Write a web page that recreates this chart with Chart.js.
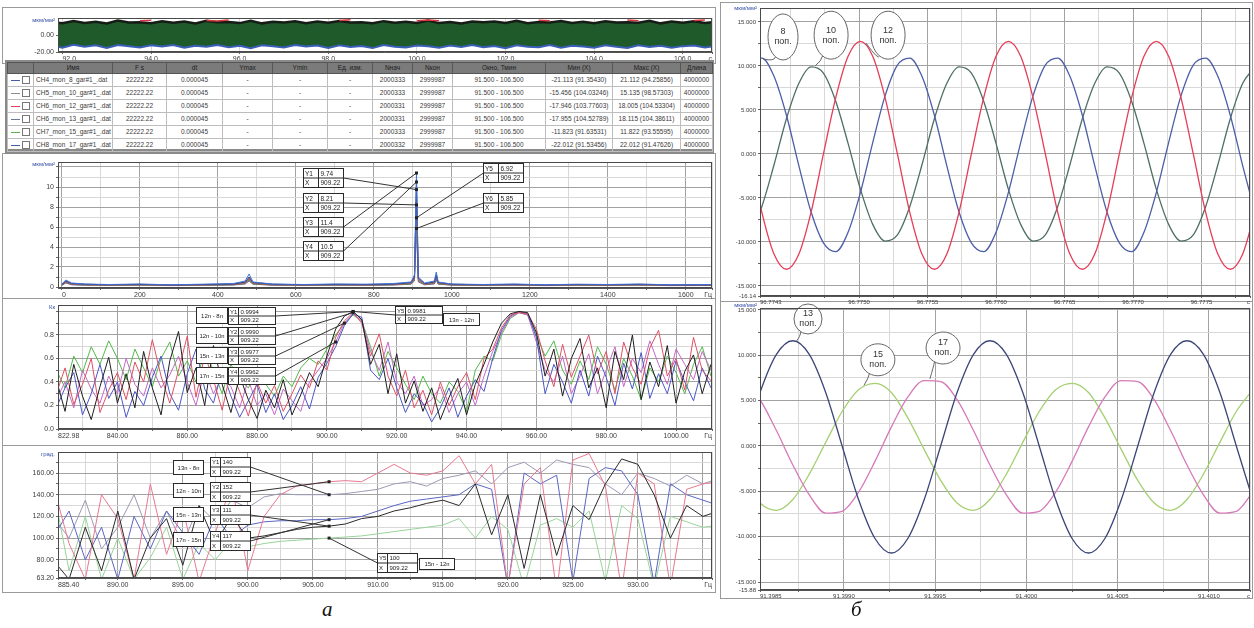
<!DOCTYPE html>
<html>
<head>
<meta charset="utf-8">
<script src="https://cdn.jsdelivr.net/npm/chart.js@4.4.0/dist/chart.umd.min.js"></script>
<style>
  body { margin: 0; background: #fff; width: 1254px; height: 628px; position: relative; overflow: hidden;
         font-family: "Liberation Sans", Arial, sans-serif; }
  .panel { position: absolute; border: 1px solid #9a9a9a; box-sizing: border-box; }
  canvas { position: absolute; }
  #tblwrap { position: absolute; left: 5px; top: 60px; width: 709px; height: 94px; border: 2px solid #8a8a8a;
             border-bottom-width: 5px; box-sizing: border-box; background: #fff; }
  #tbl { position: absolute; left: 0; top: 0; border-collapse: collapse; table-layout: fixed; width: 705px; font-size: 6.5px; }
  #tbl th { background: #7b7b7b; color: #202020; font-weight: normal; height: 10px; line-height: 10px; border: 1px solid #555; padding: 0; }
  #tbl td { height: 12px; line-height: 12px; border: 1px solid #bdbdbd; padding: 0 2px; white-space: nowrap; overflow: hidden; color: #3a3a3a; text-align: center; }
  #tbl td.nm { text-align: left; }
  .ln { display: inline-block; width: 9px; height: 1px; vertical-align: middle; margin-right: 2px; }
  .cb { display: inline-block; width: 6px; height: 6px; border: 1px solid #777; vertical-align: middle; }
  .cap { position: absolute; font-family: "Liberation Serif", serif; font-style: italic; font-size: 21px; color: #111; }
</style>
</head>
<body>
<div class="panel" style="left:2px;top:7px;width:714px;height:57px"></div>
<div class="panel" style="left:2px;top:153px;width:714px;height:146px"></div>
<div class="panel" style="left:2px;top:298px;width:714px;height:148px"></div>
<div class="panel" style="left:2px;top:445px;width:714px;height:148px"></div>
<div class="panel" style="left:720px;top:2px;width:533px;height:300px"></div>
<div class="panel" style="left:720px;top:301px;width:533px;height:298px"></div>

<canvas id="strip" width="718" height="58" style="left:0;top:8px"></canvas>
<canvas id="spec" width="718" height="147" style="left:0;top:153px"></canvas>
<canvas id="coh" width="718" height="149" style="left:0;top:298px"></canvas>
<canvas id="phase" width="718" height="151" style="left:0;top:445px"></canvas>
<canvas id="rtop" width="536" height="309" style="left:718px;top:1px"></canvas>
<canvas id="rbot" width="536" height="303" style="left:718px;top:301px"></canvas>

<div id="tblwrap">
  <table id="tbl">
    <colgroup>
      <col style="width:26px"><col style="width:79px"><col style="width:54px"><col style="width:56px">
      <col style="width:50px"><col style="width:55px"><col style="width:45px"><col style="width:40px">
      <col style="width:40px"><col style="width:93px"><col style="width:67px"><col style="width:68px"><col style="width:32px">
    </colgroup>
  </table>
</div>

<div class="cap" style="left:322px;top:597px">а</div>
<div class="cap" style="left:851px;top:597px">б</div>

<script>
Chart.defaults.font.family = '"Liberation Sans", Arial, sans-serif';

// ---------- table ----------
var tableHead = ["", "Имя", "F s", "dt", "Ymax", "Ymin", "Ед. изм.", "Nнач", "Nкон", "Окно, Тмин", "Мин (X)", "Макс (X)", "Длина"];
var chanNames = ["CH4_mon_8_gar#1_.dat", "CH5_mon_10_gar#1_.dat", "CH6_mon_12_gar#1_.dat",
                 "CH6_mon_13_gar#1_.dat", "CH7_mon_15_gar#1_.dat", "CH8_mon_17_gar#1_.dat"];
var chanColors = ["#4a5aa6", "#8a8a8a", "#e0405a", "#6a7890", "#5ab04a", "#4060b0"];
var chanStart = ["2000333", "2000333", "2000331", "2000331", "2000333", "2000332"];
var chanMin = ["-21.113 (91.35430)", "-15.456 (104.03246)", "-17.946 (103.77603)",
               "-17.955 (104.52789)", "-11.823 (91.63531)", "-22.012 (91.53456)"];
var chanMax = ["21.112 (94.25856)", "15.135 (98.57303)", "18.005 (104.53304)",
               "18.115 (104.38611)", "11.822 (93.55595)", "22.012 (91.47626)"];

// ---------- time signal strip ----------
var stripT = [91.75, 92, 92.25, 92.5, 92.75, 93, 93.25, 93.5, 93.75, 94, 94.25, 94.5, 94.75, 95, 95.25, 95.5,
  95.75, 96, 96.25, 96.5, 96.75, 97, 97.25, 97.5, 97.75, 98, 98.25, 98.5, 98.75, 99, 99.25, 99.5, 99.75, 100,
  100.25, 100.5, 100.75, 101, 101.25, 101.5, 101.75, 102, 102.25, 102.5, 102.75, 103, 103.25, 103.5, 103.75,
  104, 104.25, 104.5, 104.75, 105, 105.25, 105.5, 105.75, 106, 106.25, 106.5, 106.75];
var stripUpper = [15.2, 13.8, 16.4, 14.1, 15.7, 13.5, 16.9, 14.6, 15.0, 13.9,
  16.2, 14.4, 15.8, 13.6, 16.6, 14.9, 15.3, 14.0, 16.8, 13.7,
  15.5, 14.8, 16.1, 13.9, 15.9, 14.3, 16.5, 14.7, 15.1, 13.8,
  16.3, 14.5, 15.6, 14.2, 17.0, 14.0, 15.4, 13.6, 16.0, 14.9,
  15.8, 14.1, 16.7, 13.8, 15.2, 14.6, 16.4, 14.0, 15.7, 13.9,
  16.2, 14.8, 15.0, 14.3, 16.6, 13.7, 15.9, 14.4, 16.1, 14.2, 15.5];
var stripLower = [-12.4, -14.9, -11.6, -13.8, -12.1, -15.3, -11.9, -13.2, -14.6, -12.0,
  -13.5, -11.8, -15.0, -12.6, -13.9, -11.7, -14.4, -12.8, -15.6, -12.2,
  -13.1, -14.7, -11.9, -13.6, -12.4, -15.2, -12.0, -14.1, -12.9, -15.4,
  -11.8, -13.7, -14.8, -12.3, -13.3, -15.1, -12.5, -14.0, -11.9, -14.5,
  -13.0, -15.5, -12.1, -13.8, -14.3, -11.7, -15.0, -12.7, -13.4, -14.9,
  -12.2, -13.9, -15.3, -12.0, -14.2, -12.6, -15.1, -13.1, -12.4, -14.6, -13.0];
var stripRed = [null, null, null, null, null, null, null, null, 16.8, 17.4,
  null, null, null, null, 17.2, 16.6, 17.6, null, null, null,
  null, null, null, null, null, null, 17.0, 17.8, null, null,
  null, null, null, 16.9, 17.5, 16.7, null, null, null, null,
  null, null, null, null, 17.3, 16.8, null, null, null, null,
  null, null, 17.6, 16.9, null, null, null, null, 17.1, 17.7, null];
var stripXTicks = [92, 94, 96, 98, 100, 102, 104, 106, 106.66];
var stripYTicks = [-20, 0];

// ---------- spectrum ----------
var specF = [0, 10, 25, 60, 120, 200, 280, 360, 440, 470, 480, 490, 540, 620, 700, 780, 850, 895, 904, 909.22,
  914, 930, 955, 960, 965, 1000, 1080, 1160, 1240, 1320, 1400, 1480, 1560, 1670];
var spec8 = [0.25, 0.6, 0.35, 0.28, 0.22, 0.27, 0.2, 0.25, 0.3, 0.5, 1.0, 0.45, 0.28, 0.22, 0.27, 0.25, 0.3, 0.45, 1.0, 10.5,
  0.9, 0.35, 0.5, 1.2, 0.45, 0.28, 0.22, 0.27, 0.2, 0.25, 0.22, 0.27, 0.2, 0.22];
var spec10 = [0.22, 0.55, 0.3, 0.25, 0.2, 0.24, 0.18, 0.22, 0.28, 0.45, 0.9, 0.4, 0.25, 0.2, 0.24, 0.22, 0.28, 0.4, 0.9, 9.74,
  0.8, 0.3, 0.45, 1.0, 0.4, 0.25, 0.2, 0.24, 0.18, 0.22, 0.2, 0.24, 0.18, 0.2];
var spec12 = [0.2, 0.5, 0.28, 0.22, 0.18, 0.22, 0.16, 0.2, 0.25, 0.4, 0.8, 0.35, 0.22, 0.18, 0.22, 0.2, 0.25, 0.35, 0.8, 8.21,
  0.7, 0.28, 0.4, 0.9, 0.35, 0.22, 0.18, 0.22, 0.16, 0.2, 0.18, 0.22, 0.16, 0.18];
var spec13 = [0.3, 0.7, 0.4, 0.3, 0.25, 0.3, 0.22, 0.28, 0.35, 0.6, 1.3, 0.5, 0.3, 0.25, 0.3, 0.28, 0.35, 0.5, 1.2, 11.4,
  1.0, 0.4, 0.6, 1.5, 0.5, 0.3, 0.25, 0.3, 0.22, 0.28, 0.25, 0.3, 0.22, 0.25];
var spec15 = [0.18, 0.45, 0.25, 0.2, 0.16, 0.2, 0.15, 0.18, 0.22, 0.35, 0.7, 0.3, 0.2, 0.16, 0.2, 0.18, 0.22, 0.3, 0.7, 6.92,
  0.6, 0.25, 0.35, 0.8, 0.3, 0.2, 0.16, 0.2, 0.15, 0.18, 0.16, 0.2, 0.15, 0.16];
var spec17 = [0.16, 0.4, 0.22, 0.18, 0.15, 0.18, 0.14, 0.16, 0.2, 0.3, 0.6, 0.28, 0.18, 0.15, 0.18, 0.16, 0.2, 0.28, 0.6, 5.85,
  0.5, 0.22, 0.3, 0.7, 0.28, 0.18, 0.15, 0.18, 0.14, 0.16, 0.15, 0.18, 0.14, 0.15];
var specXTicks = [0, 100, 200, 300, 400, 500, 600, 700, 800, 900, 1000, 1100, 1200, 1300, 1400, 1500, 1600, 1667];
var specYTicks = [0, 1, 2, 3, 4, 5, 6, 7, 8, 9, 10, 11, 12];

// ---------- coherence ----------
var cohF = [822.5, 825, 827.5, 830, 832.5, 835, 837.5, 840, 842.5, 845, 847.5, 850, 852.5, 855, 857.5, 860,
  862.5, 865, 867.5, 870, 872.5, 875, 877.5, 880, 882.5, 885, 887.5, 890, 892.5, 895, 897.5, 900, 902.5, 905,
  907.5, 910, 912.5, 915, 917.5, 920, 922.5, 925, 927.5, 930, 932.5, 935, 937.5, 940, 942.5, 945, 947.5, 950,
  952.5, 955, 957.5, 960, 962.5, 965, 967.5, 970, 972.5, 975, 977.5, 980, 982.5, 985, 987.5, 990, 992.5, 995,
  997.5, 1000, 1002.5, 1005, 1007.5, 1010];
var coh12_8 = [0.42, 0.15, 0.55, 0.28, 0.08, 0.36, 0.61, 0.22, 0.47, 0.18,
  0.66, 0.35, 0.12, 0.58, 0.83, 0.31, 0.52, 0.2, 0.71, 0.38,
  0.14, 0.45, 0.25, 0.09, 0.33, 0.18, 0.42, 0.12, 0.29, 0.48,
  0.36, 0.62, 0.85, 0.96, 1.0, 0.93, 0.55, 0.72, 0.3, 0.64,
  0.22, 0.41, 0.15, 0.35, 0.08, 0.27, 0.43, 0.12, 0.38, 0.55,
  0.74, 0.9, 0.98, 1.0, 0.99, 0.82, 0.45, 0.68, 0.28, 0.6,
  0.77, 0.35, 0.52, 0.18, 0.66, 0.42, 0.8, 0.25, 0.57, 0.36,
  0.71, 0.22, 0.49, 0.63, 0.3, 0.55];
var coh12_10 = [0.3, 0.52, 0.21, 0.38, 0.6, 0.14, 0.33, 0.48, 0.25, 0.57,
  0.4, 0.76, 0.45, 0.22, 0.5, 0.79, 0.27, 0.63, 0.42, 0.16,
  0.5, 0.32, 0.11, 0.4, 0.22, 0.37, 0.15, 0.3, 0.46, 0.35,
  0.58, 0.5, 0.78, 0.92, 0.99, 0.9, 0.62, 0.81, 0.45, 0.28,
  0.5, 0.18, 0.33, 0.12, 0.4, 0.2, 0.36, 0.48, 0.25, 0.6,
  0.68, 0.86, 0.97, 0.99, 0.98, 0.85, 0.58, 0.36, 0.72, 0.44,
  0.62, 0.8, 0.47, 0.66, 0.3, 0.74, 0.52, 0.38, 0.69, 0.84,
  0.45, 0.6, 0.33, 0.78, 0.5, 0.41];
var coh13_12 = [0.18, 0.35, 0.48, 0.12, 0.3, 0.55, 0.26, 0.4, 0.1, 0.32,
  0.2, 0.44, 0.62, 0.3, 0.16, 0.47, 0.68, 0.34, 0.22, 0.5,
  0.28, 0.1, 0.24, 0.38, 0.14, 0.3, 0.08, 0.2, 0.36, 0.17,
  0.44, 0.56, 0.7, 0.88, 0.98, 0.95, 0.5, 0.42, 0.6, 0.35,
  0.14, 0.3, 0.22, 0.06, 0.18, 0.35, 0.1, 0.28, 0.42, 0.32,
  0.6, 0.84, 0.96, 1.0, 0.98, 0.78, 0.3, 0.55, 0.4, 0.22,
  0.5, 0.28, 0.62, 0.44, 0.2, 0.56, 0.34, 0.65, 0.26, 0.47,
  0.3, 0.58, 0.4, 0.24, 0.52, 0.35];
var coh15_13 = [0.5, 0.35, 0.62, 0.48, 0.7, 0.55, 0.75, 0.6, 0.42, 0.68,
  0.52, 0.36, 0.6, 0.74, 0.45, 0.58, 0.4, 0.66, 0.5, 0.3,
  0.55, 0.42, 0.35, 0.5, 0.38, 0.28, 0.45, 0.36, 0.52, 0.6,
  0.55, 0.68, 0.8, 0.9, 0.97, 0.92, 0.7, 0.45, 0.66, 0.52,
  0.38, 0.25, 0.45, 0.3, 0.22, 0.4, 0.32, 0.15, 0.5, 0.62,
  0.58, 0.8, 0.94, 0.99, 0.97, 0.8, 0.62, 0.75, 0.5, 0.38,
  0.58, 0.42, 0.7, 0.55, 0.33, 0.6, 0.45, 0.25, 0.52, 0.4,
  0.62, 0.48, 0.3, 0.55, 0.7, 0.45];
var coh17_15 = [0.25, 0.4, 0.18, 0.5, 0.34, 0.22, 0.45, 0.3, 0.6, 0.38,
  0.28, 0.52, 0.35, 0.46, 0.62, 0.4, 0.2, 0.5, 0.3, 0.44,
  0.36, 0.18, 0.42, 0.2, 0.3, 0.12, 0.34, 0.24, 0.15, 0.4,
  0.5, 0.6, 0.74, 0.9, 0.98, 0.92, 0.66, 0.5, 0.74, 0.4,
  0.3, 0.45, 0.2, 0.25, 0.36, 0.14, 0.3, 0.4, 0.2, 0.45,
  0.66, 0.82, 0.95, 0.99, 0.97, 0.74, 0.5, 0.4, 0.62, 0.3,
  0.45, 0.64, 0.3, 0.5, 0.7, 0.36, 0.6, 0.48, 0.75, 0.55,
  0.38, 0.68, 0.55, 0.42, 0.66, 0.5];
var cohXTicks = [822.98, 830, 840, 850, 860, 870, 880, 890, 900, 910, 920, 930, 940, 950, 960, 970, 980, 990, 1000, 1010.3];
var cohYTicks = [0, 0.1, 0.2, 0.3, 0.4, 0.5, 0.6, 0.7, 0.8, 0.9, 1.0];

// ---------- phase ----------
var phaseF = [885, 886.25, 887.5, 888.75, 890, 891.25, 892.5, 893.75, 895, 896.25, 897.5, 898.75, 900, 901.25,
  902.5, 903.75, 905, 906.25, 907.5, 908.75, 910, 911.25, 912.5, 913.75, 915, 916.25, 917.5, 918.75, 920, 921.25,
  922.5, 923.75, 925, 926.25, 927.5, 928.75, 930, 931.25, 932.5, 933.75, 935, 936.25];
var ph12_10 = [150, 95, 62, 140, 118, 62, 150, 85, 128, 60,
  105, 150, 70, 120, 140, 148, 150, 152, 153, 152,
  160, 168, 160, 158, 162, 176, 150, 168, 55, 150,
  165, 50, 172, 178, 148, 52, 160, 150, 55, 145, 150, 152];
var ph13_8 = [120, 100, 135, 90, 110, 140, 100, 125, 95, 130,
  115, 135, 128, 138, 141, 140, 140, 140, 141, 143,
  145, 150, 152, 148, 155, 158, 162, 150, 165, 170,
  160, 172, 168, 165, 150, 140, 160, 155, 148, 158, 150, 155];
var ph15_13 = [80, 62, 110, 70, 125, 62, 100, 118, 75, 130,
  95, 120, 100, 102, 105, 108, 110, 111, 113, 118,
  120, 125, 128, 132, 135, 130, 150, 103, 140, 72,
  140, 84, 130, 117, 150, 173, 168, 140, 100, 130, 120, 125];
var ph17_15 = [100, 125, 80, 110, 62, 120, 90, 125, 105, 85,
  120, 100, 112, 115, 116, 116, 117, 117, 118, 120,
  125, 130, 134, 136, 138, 140, 150, 145, 55, 160,
  150, 158, 60, 155, 165, 162, 140, 58, 150, 140, 135, 130];
var ph15_12 = [148, 70, 120, 62, 100, 62, 82, 110, 62, 95,
  80, 98, 92, 95, 97, 98, 99, 100, 101, 102,
  104, 106, 108, 110, 112, 118, 100, 120, 108, 55,
  112, 118, 110, 125, 60, 130, 118, 55, 120, 115, 110, 112];
var phaseXTicks = [885.4, 887.5, 890, 892.5, 895, 897.5, 900, 902.5, 905, 907.5, 910, 912.5, 915, 917.5, 920,
  922.5, 925, 927.5, 930, 932.5, 935, 935.7];
var phaseYTicks = [63.2, 70, 80, 90, 100, 110, 120, 130, 140, 150, 160, 170];

// ---------- right: harmonics 8, 10, 12 (time in µs after 96.7740 s) ----------
var topT = [200, 290, 380, 470, 560, 650, 740, 830, 920, 1010, 1100, 1190, 1280, 1370, 1460, 1550, 1640, 1730,
  1820, 1910, 2000, 2090, 2180, 2270, 2360, 2450, 2540, 2630, 2720, 2810, 2900, 2990, 3080, 3170, 3260, 3350,
  3440, 3530, 3620, 3710, 3800, 3890];
var top8 = [10.1, 10.9, 8.8, 4.4, -1.3, -6.6, -10.1, -11.1, -8.9, -4.4, 1.3, 6.6,
  10.1, 10.9, 8.8, 4.4, -1.3, -6.6, -10.1, -11.1, -8.9, -4.4, 1.3, 6.6,
  10.1, 10.9, 8.8, 4.4, -1.3, -6.6, -10.1, -11.1, -8.9, -4.4, 1.3, 6.6,
  10.1, 10.9, 8.8, 4.4, -1.3, -6.6];
var top10 = [-9.2, -6.0, -1.2, 4.0, 8.0, 9.9, 9.2, 6.0, 1.2, -4.0, -8.0, -9.9,
  -9.2, -6.0, -1.2, 4.0, 8.0, 9.9, 9.2, 6.0, 1.2, -4.0, -8.0, -9.9,
  -9.2, -6.0, -1.2, 4.0, 8.0, 9.9, 9.2, 6.0, 1.2, -4.0, -8.0, -9.9,
  -9.2, -6.0, -1.2, 4.0, 8.0, 9.9];
var top12 = [0, -6.6, -11.4, -13.1, -11.4, -6.6, 0, 6.4, 11.1, 12.8, 11.1, 6.4,
  0, -6.6, -11.4, -13.1, -11.4, -6.6, 0, 6.4, 11.1, 12.8, 11.1, 6.4,
  0, -6.6, -11.4, -13.1, -11.4, -6.6, 0, 6.4, 11.1, 12.8, 11.1, 6.4,
  0, -6.6, -11.4, -13.1, -11.4, -6.6];
var topXTicks = [277, 500, 750, 1000, 1250, 1500, 1750, 2000, 2250, 2500, 2750, 3000, 3250, 3500, 3750, 3854];
var topYTicks = [-16.14, -15, -12.5, -10, -7.5, -5, -2.5, 0, 2.5, 5, 7.5, 10, 12.5, 15];

// ---------- right: harmonics 13, 15, 17 (time in µs after 91.3980 s) ----------
var botT = [450, 540, 630, 720, 810, 900, 990, 1080, 1170, 1260, 1350, 1440, 1530, 1620, 1710, 1800, 1890, 1980,
  2070, 2160, 2250, 2340, 2430, 2520, 2610, 2700, 2790, 2880, 2970, 3060, 3150, 3240];
var bot13 = [0, 5.9, 10.1, 11.6, 10.1, 5.9, 0, -5.9, -10.2, -11.8, -10.2, -5.9,
  0, 5.9, 10.1, 11.6, 10.1, 5.9, 0, -5.9, -10.2, -11.8, -10.2, -5.9,
  0, 5.9, 10.1, 11.6, 10.1, 5.9, 0, -5.9];
var bot15 = [-3.8, -6.3, -7.1, -5.9, -3.1, 0.4, 3.8, 6.2, 6.9, 5.9, 3.1, -0.4,
  -3.8, -6.3, -7.1, -5.9, -3.1, 0.4, 3.8, 6.2, 6.9, 5.9, 3.1, -0.4,
  -3.8, -6.3, -7.1, -5.9, -3.1, 0.4, 3.8, 6.2];
var bot17 = [7.1, 5.1, 1.7, -2.1, -5.4, -7.4, -7.2, -5.1, -1.7, 2.1, 5.4, 7.2,
  7.1, 5.1, 1.7, -2.1, -5.4, -7.4, -7.2, -5.1, -1.7, 2.1, 5.4, 7.2,
  7.1, 5.1, 1.7, -2.1, -5.4, -7.4, -7.2, -5.1];
var botXTicks = [540, 750, 1000, 1250, 1500, 1750, 2000, 2250, 2500, 2750, 3000, 3225];
var botYTicks = [-15.88, -15, -12.5, -10, -7.5, -5, -2.5, 0, 2.5, 5, 7.5, 10, 12.5, 15];

// ---------- build table ----------
var rowsHtml = "<tr>" + tableHead.map(function(h) { return "<th>" + h + "</th>"; }).join("") + "</tr>";
chanNames.forEach(function(name, i) {
  rowsHtml += "<tr><td><span class='ln' style='background:" + chanColors[i] + "'></span><span class='cb'></span></td>" +
    "<td class='nm'>" + name + "</td><td>22222.22</td><td>0.000045</td><td>-</td><td>-</td><td>-</td>" +
    "<td>" + chanStart[i] + "</td><td>2999987</td><td>91.500 - 106.500</td>" +
    "<td>" + chanMin[i] + "</td><td>" + chanMax[i] + "</td><td>4000000</td></tr>";
});
document.getElementById("tbl").insertAdjacentHTML("beforeend", rowsHtml);

// ---------- plugins ----------
var framePlugin = {
  id: "frame",
  afterDraw: function(chart, args, opts) {
    var a = chart.chartArea, ctx = chart.ctx;
    ctx.save();
    ctx.strokeStyle = "#4a4a4a";
    ctx.lineWidth = 1;
    ctx.strokeRect(Math.round(a.left) + 0.5, Math.round(a.top) + 0.5,
                   Math.round(a.right - a.left) - 1, Math.round(a.bottom - a.top) - 1);
    if (opts.unit) {
      ctx.font = '6px "Liberation Sans", sans-serif';
      ctx.fillStyle = "#3550a8";
      ctx.textAlign = "right";
      ctx.textBaseline = "top";
      ctx.fillText(opts.unit, a.left - 3, a.top - (opts.unitLift || 1));
    }
    ctx.restore();
  }
};

var calloutPlugin = {
  id: "callouts",
  afterDatasetsDraw: function(chart, args, opts) {
    var ctx = chart.ctx, sx = chart.scales.x, sy = chart.scales.y;
    var X = function(v) { return sx.getPixelForValue(v); };
    var Y = function(v) { return sy.getPixelForValue(v); };
    ctx.save();
    ctx.lineWidth = 1;
    ctx.textBaseline = "middle";
    (opts.items || []).forEach(function(it) {
      var bx = Math.round(X(it.x)) + 0.5, by = Math.round(Y(it.y)) + 0.5;
      ctx.font = (it.fs || 6.5) + 'px "Liberation Sans", sans-serif';
      if (it.kind === "vals") {
        var w = it.w[0] + it.w[1], h = it.rh * it.rows.length;
        if (it.to) {
          var tx = X(it.to[0]), ty = Y(it.to[1]);
          var ax = it.side === "left" ? bx : bx + w;
          ctx.strokeStyle = "#333";
          ctx.beginPath(); ctx.moveTo(ax, by + h / 2); ctx.lineTo(tx, ty); ctx.stroke();
          ctx.fillStyle = "#222"; ctx.fillRect(tx - 1.5, ty - 1.5, 3, 3);
        }
        ctx.fillStyle = "#fff"; ctx.fillRect(bx, by, w, h);
        ctx.strokeStyle = "#2a2a2a"; ctx.strokeRect(bx, by, w, h);
        ctx.beginPath();
        ctx.moveTo(bx + it.w[0], by); ctx.lineTo(bx + it.w[0], by + h);
        for (var r = 1; r < it.rows.length; r++) { ctx.moveTo(bx, by + r * it.rh); ctx.lineTo(bx + w, by + r * it.rh); }
        ctx.stroke();
        ctx.fillStyle = "#222"; ctx.textAlign = "left";
        it.rows.forEach(function(row, k) {
          ctx.fillText(row[0], bx + 1.5, by + k * it.rh + it.rh / 2 + 0.5);
          ctx.fillText(row[1], bx + it.w[0] + 2, by + k * it.rh + it.rh / 2 + 0.5);
        });
      } else if (it.kind === "name") {
        ctx.fillStyle = "#fff"; ctx.fillRect(bx, by, it.w, it.h);
        ctx.strokeStyle = "#2a2a2a"; ctx.strokeRect(bx, by, it.w, it.h);
        ctx.fillStyle = "#222"; ctx.textAlign = "center";
        ctx.fillText(it.text, bx + it.w / 2, by + it.h / 2 + 0.5);
      } else if (it.kind === "bubble") {
        var cx = X(it.x), cy = Y(it.y), px = X(it.to[0]), py = Y(it.to[1]);
        var sxp = cx - it.rx * 0.5, syp = cy + it.ry * 0.86;
        ctx.strokeStyle = "#666";
        ctx.beginPath(); ctx.moveTo(sxp, syp); ctx.quadraticCurveTo(sxp - 1, syp + 5, px, py); ctx.stroke();
        ctx.beginPath(); ctx.ellipse(cx, cy, it.rx, it.ry, 0, 0, Math.PI * 2);
        ctx.fillStyle = "#fff"; ctx.fill(); ctx.stroke();
        ctx.fillStyle = "#333"; ctx.textAlign = "center";
        ctx.font = '9px "Liberation Sans", sans-serif';
        var n = it.lines.length;
        it.lines.forEach(function(s, k) { ctx.fillText(s, cx, cy + (k - (n - 1) / 2) * 10); });
      }
    });
    ctx.restore();
  }
};

// ---------- helpers ----------
function pts(xs, ys) {
  return xs.map(function(x, i) { return { x: x, y: ys[i] }; });
}
function axis(isX, a) {
  return {
    type: "linear", min: a.min, max: a.max,
    afterBuildTicks: function(s) { s.ticks = a.ticks.map(function(v) { return { value: v }; }); },
    afterFit: function(s) { if (isX) s.height = a.size; else s.width = a.size; },
    ticks: {
      autoSkip: false, maxRotation: 0, minRotation: 0, align: isX ? "inner" : "center",
      padding: isX ? 1 : 2, color: "#3c3c3c", font: { size: a.font || 7 },
      callback: function(v) { return a.label(v); }
    },
    grid: {
      color: function(c) { return (c.tick && a.major(c.tick.value)) ? "#a2a2a2" : "#d8d8d8"; },
      tickLength: 2, tickColor: "#666"
    },
    border: { color: "#555" }
  };
}
function near(v, step) { return Math.abs(v / step - Math.round(v / step)) < 1e-6; }
function lineChart(id, datasets, o) {
  return new Chart(document.getElementById(id), {
    type: "line",
    data: { datasets: datasets },
    options: {
      responsive: false, animation: false, events: [],
      layout: { padding: { left: 0, right: o.padR, top: o.padT, bottom: 0 } },
      plugins: {
        legend: { display: false }, tooltip: { enabled: false },
        frame: { unit: o.unit, unitLift: o.unitLift }, callouts: { items: o.items || [] }
      },
      elements: { point: { radius: 0 }, line: { borderWidth: 1, tension: 0 } },
      scales: { x: axis(true, o.x), y: axis(false, o.y) }
    },
    plugins: [calloutPlugin, framePlugin]
  });
}
function ds(xs, ys, color, extra) {
  var d = { data: pts(xs, ys), borderColor: color, fill: false, borderWidth: 1 };
  for (var k in extra || {}) d[k] = extra[k];
  return d;
}

// ---------- strip ----------
lineChart("strip", [
  ds(stripT, stripRed, "#d8383e", { borderWidth: 1.5 }),
  ds(stripT, stripLower, "#3a5fb8", { borderWidth: 2 }),
  ds(stripT, stripUpper, "#161c16", { borderWidth: 2.5, fill: 1, backgroundColor: "#1f5a2b" })
], {
  padR: 6, padT: 10, unit: "мкм/мм²",
  x: { min: 91.9, max: 106.66, ticks: stripXTicks, size: 14, major: function() { return false; },
       label: function(v) { return v > 106.5 ? "с" : v.toFixed(1); } },
  y: { min: -20, max: 20, ticks: stripYTicks, size: 58, major: function() { return false; },
       label: function(v) { return v.toFixed(2); } }
});

// ---------- spectrum ----------
var vb = function(x, y, n, val, to, side) {
  return { kind: "vals", x: x, y: y, w: [15, 25], rh: 9.5, rows: [[n, val], ["X", "909.22"]], to: to, side: side };
};
lineChart("spec", [
  ds(specF, spec17, "#9050b0"), ds(specF, spec15, "#40a040"), ds(specF, spec12, "#d04050"),
  ds(specF, spec10, "#808080"), ds(specF, spec8, "#303a80"), ds(specF, spec13, "#3d6fd6")
].reverse(), {
  padR: 6, padT: 9, unit: "мкм/мм²",
  items: [
    vb(618, 11.9, "Y1", "9.74", [909.22, 9.74]), vb(618, 9.4, "Y2", "8.21", [909.22, 8.21]),
    vb(618, 7.0, "Y3", "11.4", [909.22, 11.4]), vb(618, 4.6, "Y4", "10.5", [909.22, 10.5]),
    vb(1079, 12.4, "Y5", "6.92", [909.22, 6.92], "left"), vb(1079, 9.4, "Y6", "5.85", [909.22, 5.85], "left")
  ],
  x: { min: -10, max: 1667, ticks: specXTicks, size: 12, major: function(v) { return near(v, 200); },
       label: function(v) { return v > 1650 ? "Гц" : (near(v, 200) ? String(v) : ""); } },
  y: { min: -0.1, max: 12.5, ticks: specYTicks, size: 58, major: function(v) { return near(v, 2); },
       label: function(v) { return (near(v, 2) && v < 12) ? String(v) : ""; } }
});

// ---------- coherence ----------
var cv = function(x, y, n, val, to, side) {
  return { kind: "vals", x: x, y: y, w: [10, 37], rh: 8.5, fs: 6, rows: [[n, val], ["X", "909.22"]], to: to, side: side };
};
var cn = function(x, y, t, w, h) { return { kind: "name", x: x, y: y, w: w || 31, h: h || 16, fs: 6, text: t }; };
lineChart("coh", [
  ds(cohF, coh12_8, "#1e1e1e"), ds(cohF, coh12_10, "#e05064"), ds(cohF, coh13_12, "#4a56c8"),
  ds(cohF, coh17_15, "#c468c4"), ds(cohF, coh15_13, "#52b84a")
], {
  padR: 6, padT: 7, unit: "Кк",
  items: [
    cn(862.5, 1.038, "12п - 8п"), cv(871.7, 1.038, "Y1", "0.9994", [907.5, 1.0]),
    cn(862.5, 0.868, "12п - 10п"), cv(871.7, 0.868, "Y2", "0.9990", [907.5, 0.99]),
    cn(862.5, 0.698, "15п - 13п"), cv(871.7, 0.698, "Y3", "0.9977", [905, 0.9]),
    cn(862.5, 0.528, "17п - 15п"), cv(871.7, 0.528, "Y4", "0.9962", [902.5, 0.74]),
    cv(919.5, 1.045, "Y5", "0.9981", [907.5, 1.0], "left"), cn(933.3, 0.987, "13п - 12п", 36, 12)
  ],
  x: { min: 822.98, max: 1010.3, ticks: cohXTicks, size: 18,
       major: function(v) { return near(v, 20); },
       label: function(v) { return v > 1010 ? "Гц" : ((near(v, 20) || v < 823) ? v.toFixed(2) : ""); } },
  y: { min: 0, max: 1.055, ticks: cohYTicks, size: 58, major: function(v) { return near(v, 0.2); },
       label: function(v) { return (near(v, 0.2) && v < 0.95) ? v.toFixed(1) : ""; } }
});

// ---------- phase ----------
var pv = function(x, y, n, val, to, side) {
  return { kind: "vals", x: x, y: y, w: [10, 30], rh: 9.5, fs: 6, rows: [[n, val], ["X", "909.22"]], to: to, side: side };
};
var pn = function(x, y, t, w, h) { return { kind: "name", x: x, y: y, w: w || 30, h: h || 14, fs: 6, text: t }; };
lineChart("phase", [
  ds(phaseF, ph15_13, "#2a2a2a"), ds(phaseF, ph12_10, "#e87890"), ds(phaseF, ph17_15, "#5a66c4"),
  ds(phaseF, ph13_8, "#9a9ab4"), ds(phaseF, ph15_12, "#98d498")
], {
  padR: 6, padT: 7, unit: "град.",
  items: [
    pn(894.25, 172, "13п - 8п"), pv(897.1, 174.7, "Y1", "140", [906.25, 140]),
    pn(894.25, 150.8, "12п - 10п"), pv(897.1, 151.7, "Y2", "152", [906.25, 152]),
    pn(894.25, 128.7, "15п - 13п"), pv(897.1, 130.5, "Y3", "111", [906.25, 111]),
    pn(894.25, 105.6, "17п - 15п"), pv(897.1, 106.5, "Y4", "117", [906.25, 117]),
    pv(909.9, 86.3, "Y5", "100", [906.25, 100], "left"), pn(913.2, 81.7, "15п - 12п", 35, 11)
  ],
  x: { min: 885.4, max: 935.7, ticks: phaseXTicks, size: 18,
       major: function(v) { return near(v, 5); },
       label: function(v) { return v > 935.5 ? "Гц" : (((near(v, 5) && v < 933) || v < 886) ? v.toFixed(2) : ""); } },
  y: { min: 63.2, max: 179.4, ticks: phaseYTicks, size: 58, major: function(v) { return near(v, 20); },
       label: function(v) { return (near(v, 20) || v < 64) ? v.toFixed(2) : ""; } }
});

// ---------- right charts ----------
var smooth = { cubicInterpolationMode: "monotone", borderWidth: 1.3 };
var bub = function(x, y, rx, ry, num, to) {
  return { kind: "bubble", x: x, y: y, rx: rx, ry: ry, lines: [num, "поп."], to: to };
};
lineChart("rtop", [
  ds(topT, top12, "#e53d58", smooth), ds(topT, top8, "#4d5ea8", smooth), ds(topT, top10, "#4e6f64", smooth)
], {
  padR: 4, padT: 7, unit: "мкм/мм²", unitLift: 3,
  items: [
    bub(445, 13.3, 15, 23, "8", [299, 10.8]),
    bub(796, 13.5, 17, 24, "10", [679, 10.0]),
    bub(1212, 13.5, 17, 24, "12", [1051, 12.6])
  ],
  x: { min: 277, max: 3854, ticks: topXTicks, size: 14, font: 6,
       major: function(v) { return near(v, 500) && v >= 1000; },
       label: function(v) { return v > 3850 ? "с" : ((v < 300 || (near(v, 500) && v >= 1000)) ? (96.774 + v / 1e6).toFixed(4) : ""); } },
  y: { min: -16.14, max: 16.59, ticks: topYTicks, size: 42, font: 6,
       major: function(v) { return near(v, 5); },
       label: function(v) { return near(v, 5) ? v.toFixed(3) : (v < -16 ? v.toFixed(2) : ""); } }
});
lineChart("rbot", [
  ds(botT, bot13, "#3b4678", smooth), ds(botT, bot17, "#d67ab8", smooth), ds(botT, bot15, "#a6cf72", smooth)
], {
  padR: 4, padT: 7, unit: "мкм/мм²", unitLift: 6,
  items: [
    bub(803, 14.0, 14, 15, "13", [742, 11.6]),
    bub(1186, 9.5, 17, 16, "15", [1110, 6.7]),
    bub(1543, 10.8, 17, 16, "17", [1471, 7.4])
  ],
  x: { min: 540, max: 3225, ticks: botXTicks, size: 14, font: 6,
       major: function(v) { return near(v, 500); },
       label: function(v) { return v > 3200 ? "с" : ((v < 600 || near(v, 500)) ? (91.398 + v / 1e6).toFixed(4) : ""); } },
  y: { min: -15.88, max: 15.21, ticks: botYTicks, size: 42, font: 6,
       major: function(v) { return near(v, 5); },
       label: function(v) { return near(v, 5) ? v.toFixed(3) : (v < -15.5 ? v.toFixed(2) : ""); } }
});
</script>
</body>
</html>
